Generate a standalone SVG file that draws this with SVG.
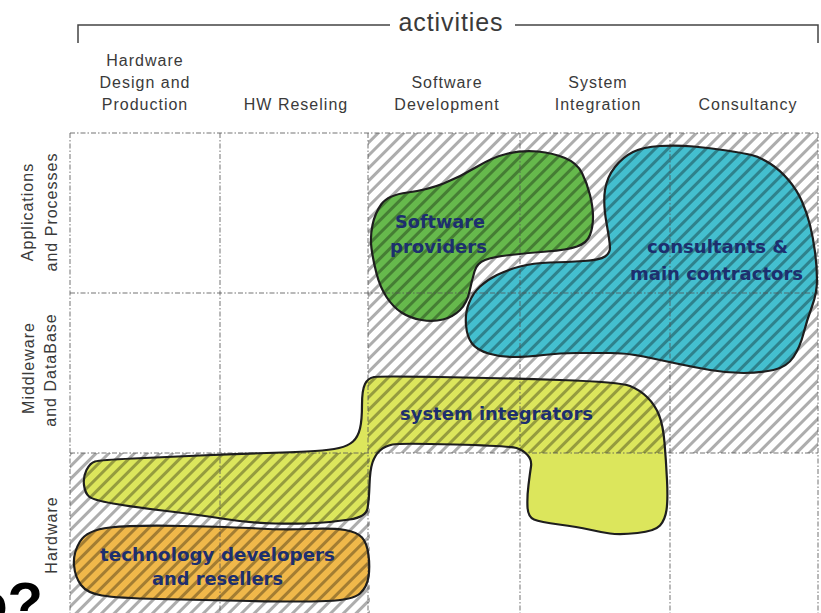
<svg xmlns="http://www.w3.org/2000/svg" width="821" height="613" viewBox="0 0 821 613">
  <defs>
    <style>
      .hdr { font-family: "Liberation Sans", Arial, sans-serif; font-size: 16px; letter-spacing: 1px; fill: #3a3a3a; text-anchor: middle; }
      .title { font-family: "Liberation Sans", Arial, sans-serif; font-size: 25px; letter-spacing: 0.9px; fill: #3a3a3a; text-anchor: middle; }
      .grid { stroke: #555; stroke-opacity: 0.55; stroke-width: 1.5; stroke-dasharray: 5 2 1.5 2; fill: none; }
      .frame { stroke: #444; stroke-width: 1.5; fill: none; }
      .blob { stroke: #1e1e1e; stroke-width: 2.2; stroke-linejoin: round; }
      .lbl { font-family: "DejaVu Sans", Verdana, sans-serif; font-weight: bold; font-size: 17px; fill: #1d2f6e; }
    </style>
    <pattern id="hatch" width="9" height="9" patternUnits="userSpaceOnUse" patternTransform="rotate(45)">
      <rect x="0" y="0" width="3" height="9" fill="#000" fill-opacity="0.32"/>
    </pattern>
    <clipPath id="hatchArea">
      <path d="M368,133 H818 V453 H368 Z M70,453 H370 V613 H70 Z"/>
    </clipPath>
    <path id="shpSoftware" d="M407.5,192.5 Q427,190 443.5,183.5 Q460,177 476.5,167 Q493,157 508,153.5 Q523,150 538,151.5 Q553,153 565,158 Q577,163 582,173 Q587,183 590,195 Q593,207 593,217 Q593,227 590,235 Q587,243 577,246.5 Q567,250 547,251.5 Q527,253 510,255 Q493,257 485,260 Q477,263 474.5,271.5 Q472,280 469.5,291.5 Q467,303 460,310 Q453,317 443,319.5 Q433,322 421.5,320 Q410,318 401.5,312.5 Q393,307 386.5,297 Q380,287 376.5,273.5 Q373,260 371.5,248.5 Q370,237 372.5,225 Q375,213 381.5,204 Q388,195 407.5,192.5 Z"/>
    <path id="shpConsult" d="M606.5,223 Q603,203 605,190 Q607,177 615,167 Q623,157 633,152 Q643,147 660,146 Q677,145 693.5,146.5 Q710,148 726.5,150.5 Q743,153 751.5,155 Q760,157 770,163.5 Q780,170 788.5,180 Q797,190 802,201.5 Q807,213 810,225 Q813,237 815,252 Q817,267 817,280 Q817,293 812,306.5 Q807,320 803.5,333.5 Q800,347 793.5,357 Q787,367 773.5,370 Q760,373 743.5,373 Q727,373 710,370 Q693,367 676.5,363.5 Q660,360 643.5,356.5 Q627,353 610,353 Q593,353 576.5,353 Q560,353 543.5,355 Q527,357 513.5,357 Q500,357 488.5,353.5 Q477,350 472,343.5 Q467,337 466,325 Q465,313 469,303 Q473,293 480,286.5 Q487,280 497,275 Q507,270 520,266.5 Q533,263 550,262.5 Q567,262 583.5,261 Q600,260 605,256.5 Q610,253 610,248 Q610,243 606.5,223 Z"/>
    <path id="shpIntegr" d="M374,377 Q380,376 440,377 Q500,378 560,380 Q620,382 630,386 Q640,390 647.5,397.5 Q655,405 659,415 Q663,425 664.5,442.5 Q666,460 667,480 Q668,500 666.5,510 Q665,520 660,525.5 Q655,531 637.5,533 Q620,535 610,533.5 Q600,532 589,529.5 Q578,527 559,524.5 Q540,522 534,519.5 Q528,517 527.5,507 Q527,497 528.5,485 Q530,473 531,466.5 Q532,460 527.5,455 Q523,450 516.5,448 Q510,446 455,444.5 Q400,443 392.5,444.5 Q385,446 380,450.5 Q375,455 372.5,462.5 Q370,470 369.5,485 Q369,500 367.5,508.5 Q366,517 349.5,519.5 Q333,522 316.5,523 Q300,524 275,523.5 Q250,523 225,519 Q200,515 166.5,511 Q133,507 113,503.5 Q93,500 89,496.5 Q85,493 84,485 Q83,477 86.5,470 Q90,463 95,461.5 Q100,460 133.5,458.5 Q167,457 200,455.5 Q233,454 266.5,453 Q300,452 315,451 Q330,450 339,448 Q348,446 353,441.5 Q358,437 360,428.5 Q362,420 362,405 Q362,390 365,384 Q368,378 374,377 Z"/>
    <path id="shpTech" d="M110,527.5 Q133,525 183,526 Q233,527 258,528.5 Q283,530 308,529 Q333,528 345,530 Q357,532 362,537.5 Q367,543 368.5,555 Q370,567 368.5,577 Q367,587 360,593.5 Q353,600 326.5,601 Q300,602 250,601 Q200,600 158.5,599 Q117,598 102,595.5 Q87,593 81,585 Q75,577 74,565 Q73,553 80,541.5 Q87,530 110,527.5 Z"/>
  </defs>

  <rect x="0" y="0" width="821" height="613" fill="#ffffff"/>

  <!-- activities bracket and title -->
  <g id="activities">
    <path class="frame" d="M78,43 V25 H390 M515,25 H818 V43"/>
    <text class="title" x="451" y="31">activities</text>
  </g>

  <!-- column headers -->
  <g id="col-headers">
    <text class="hdr" x="145" y="66">Hardware</text>
    <text class="hdr" x="145" y="88">Design and</text>
    <text class="hdr" x="145" y="110">Production</text>
    <text class="hdr" x="296" y="110">HW Reseling</text>
    <text class="hdr" x="447" y="88">Software</text>
    <text class="hdr" x="447" y="110">Development</text>
    <text class="hdr" x="598" y="88">System</text>
    <text class="hdr" x="598" y="110">Integration</text>
    <text class="hdr" x="748" y="110">Consultancy</text>
  </g>

  <!-- row headers -->
  <g id="row-headers">
    <text class="hdr" transform="translate(33,212) rotate(-90)">Applications</text>
    <text class="hdr" transform="translate(57,212) rotate(-90)">and Processes</text>
    <text class="hdr" transform="translate(34,368) rotate(-90)">Middleware</text>
    <text class="hdr" transform="translate(56,370) rotate(-90)">and DataBase</text>
    <text class="hdr" transform="translate(57,535) rotate(-90)">Hardware</text>
  </g>

  <!-- filled areas -->
  <g id="fills">
    <use href="#shpTech" fill="#f0b84a"/>
    <use href="#shpIntegr" fill="#dce65c"/>
    <use href="#shpSoftware" fill="#66b94c"/>
    <use href="#shpConsult" fill="#44bfcf"/>
  </g>

  <!-- hatched cells -->
  <rect x="0" y="0" width="821" height="613" fill="url(#hatch)" clip-path="url(#hatchArea)"/>

  <!-- grid -->
  <g id="grid" class="grid">
    <path d="M70,133 H818 M70,293 H818 M70,453 H818"/>
    <path d="M70,133 V613 M220,133 V613 M368,133 V613 M520,133 V613 M670,133 V613 M818,133 V613"/>
  </g>

  <!-- nodes -->
  <g id="node-tech">
    <use href="#shpTech" class="blob" fill="none"/>
    <text class="lbl" x="100" y="561" textLength="235" lengthAdjust="spacingAndGlyphs">technology developers</text>
    <text class="lbl" x="152" y="585" textLength="131" lengthAdjust="spacingAndGlyphs">and resellers</text>
  </g>
  <g id="node-integrators">
    <use href="#shpIntegr" class="blob" fill="none"/>
    <text class="lbl" x="400" y="420" textLength="193" lengthAdjust="spacingAndGlyphs">system integrators</text>
  </g>
  <g id="node-software">
    <use href="#shpSoftware" class="blob" fill="none"/>
    <text class="lbl" x="395" y="228" textLength="90" lengthAdjust="spacingAndGlyphs">Software</text>
    <text class="lbl" x="390" y="253" textLength="97" lengthAdjust="spacingAndGlyphs">providers</text>
  </g>
  <g id="node-consultants">
    <use href="#shpConsult" class="blob" fill="none"/>
    <text class="lbl" x="647" y="253" textLength="141" lengthAdjust="spacingAndGlyphs">consultants &amp;</text>
    <text class="lbl" x="630" y="280" textLength="173" lengthAdjust="spacingAndGlyphs">main contractors</text>
  </g>

  <!-- connectors: none in this chart -->
  <g id="connectors"></g>

  <!-- trailing heading text, cut by the page edge -->
  <text x="43" y="623" font-family="Liberation Sans, Arial, sans-serif" font-weight="bold" font-size="58" fill="#000" text-anchor="end">o?</text>
</svg>
